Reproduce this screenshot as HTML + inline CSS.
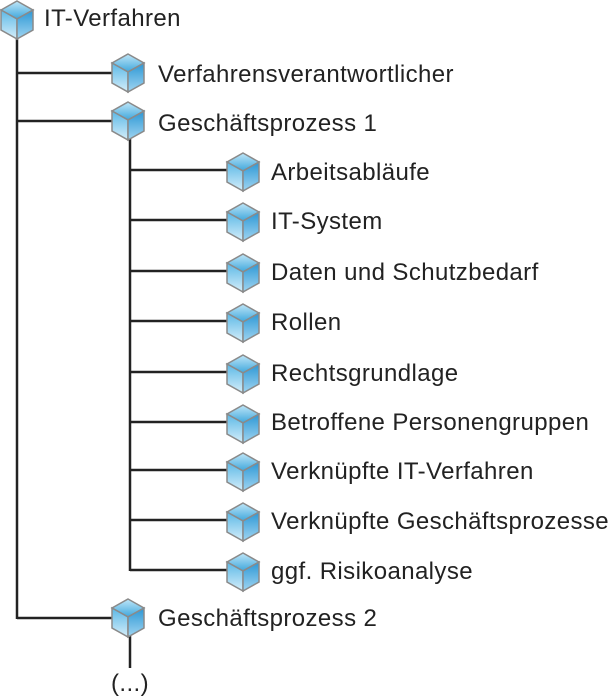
<!DOCTYPE html>
<html><head><style>
body{margin:0;width:611px;height:697px;background:#fff;position:relative;overflow:hidden;font-family:"Liberation Sans",sans-serif;}
.t{position:absolute;font-size:24px;letter-spacing:0.4px;color:#222;white-space:nowrap;line-height:26px;}
</style></head><body>
<svg width="611" height="697" style="position:absolute;left:0;top:0">
<defs>
<linearGradient id="gt" x1="0" y1="0" x2="0" y2="1"><stop offset="0" stop-color="#bfe6f8"/><stop offset="1" stop-color="#3fa7dc"/></linearGradient>
<linearGradient id="gl" x1="0" y1="0" x2="0" y2="1"><stop offset="0" stop-color="#5bb8e6"/><stop offset="1" stop-color="#d5eefa"/></linearGradient>
<linearGradient id="gr" x1="0" y1="0" x2="0" y2="1"><stop offset="0" stop-color="#2d97d4"/><stop offset="1" stop-color="#9fd5f1"/></linearGradient>
<g id="cube">
<polygon points="0,-19 16,-10 0,-1 -16,-10" fill="url(#gt)" stroke="#8a8a8a" stroke-width="1.5"/>
<polygon points="-16,-10 0,-1 0,19 -16,10" fill="url(#gl)" stroke="#8a8a8a" stroke-width="1.5"/>
<polygon points="16,-10 0,-1 0,19 16,10" fill="url(#gr)" stroke="#8a8a8a" stroke-width="1.5"/>
</g>
</defs>
<g stroke="#222" stroke-width="2.5" fill="none">
<line x1="17" y1="36" x2="17" y2="619"/>
<line x1="17" y1="73" x2="112" y2="73"/>
<line x1="17" y1="121" x2="112" y2="121"/>
<line x1="17" y1="618" x2="112" y2="618"/>
<line x1="130" y1="138" x2="130" y2="571"/>
<line x1="130" y1="170" x2="228" y2="170"/>
<line x1="130" y1="220" x2="228" y2="220"/>
<line x1="130" y1="271" x2="228" y2="271"/>
<line x1="130" y1="321" x2="228" y2="321"/>
<line x1="130" y1="372" x2="228" y2="372"/>
<line x1="130" y1="422" x2="228" y2="422"/>
<line x1="130" y1="470" x2="228" y2="470"/>
<line x1="130" y1="520" x2="228" y2="520"/>
<line x1="130" y1="570" x2="228" y2="570"/>
<line x1="130" y1="634" x2="130" y2="668"/>
</g>
<use href="#cube" x="17" y="20"/>
<use href="#cube" x="128" y="73"/>
<use href="#cube" x="128" y="121"/>
<use href="#cube" x="243" y="172"/>
<use href="#cube" x="243" y="222"/>
<use href="#cube" x="243" y="273"/>
<use href="#cube" x="243" y="323"/>
<use href="#cube" x="243" y="374"/>
<use href="#cube" x="243" y="424"/>
<use href="#cube" x="243" y="472"/>
<use href="#cube" x="243" y="522"/>
<use href="#cube" x="243" y="572"/>
<use href="#cube" x="128" y="618"/>
</svg>
<div class="t" style="left:44px;top:6px">IT-Verfahren</div>
<div class="t" style="left:158px;top:62px">Verfahrensverantwortlicher</div>
<div class="t" style="left:158px;top:111px">Geschäftsprozess 1</div>
<div class="t" style="left:271px;top:160px">Arbeitsabläufe</div>
<div class="t" style="left:271px;top:209px">IT-System</div>
<div class="t" style="left:271px;top:260px">Daten und Schutzbedarf</div>
<div class="t" style="left:271px;top:310px">Rollen</div>
<div class="t" style="left:271px;top:361px">Rechtsgrundlage</div>
<div class="t" style="left:271px;top:410px">Betroffene Personengruppen</div>
<div class="t" style="left:271px;top:459px">Verknüpfte IT-Verfahren</div>
<div class="t" style="left:271px;top:509px">Verknüpfte Geschäftsprozesse</div>
<div class="t" style="left:271px;top:559px">ggf. Risikoanalyse</div>
<div class="t" style="left:158px;top:606px">Geschäftsprozess 2</div>
<div class="t" style="left:111px;top:671px">(...)</div>
</body></html>
